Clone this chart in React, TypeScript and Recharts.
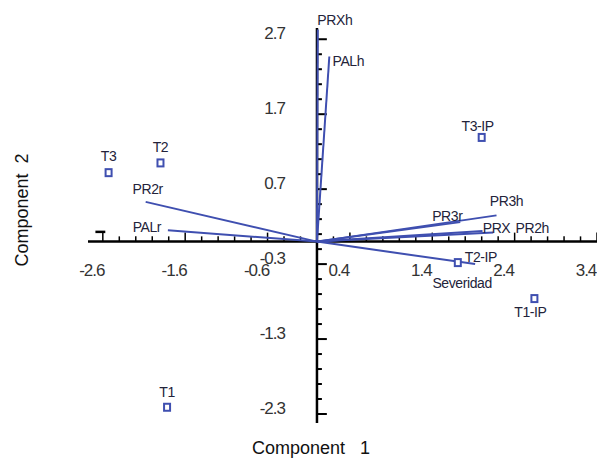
import { ScatterChart, Scatter, XAxis, YAxis, ReferenceLine } from 'recharts'

// biplot: Component 1 vs Component 2
const pointNames = ['T1', 'T2', 'T3', 'T1-IP', 'T2-IP', 'T3-IP']
const pointX = [-1.82, -1.9, -2.53, 2.64, 1.71, 2.0]
const pointY = [-2.21, 1.05, 0.92, -0.76, -0.28, 1.39]

const vectorNames = ['PRXh', 'PALh', 'PR2r', 'PALr', 'PR3h', 'PR3r', 'PRX', 'PR2h', 'Severidad']
const vectorX = [0.01, 0.15, -2.08, -1.81, 2.18, 1.74, 2.01, 2.14, 1.92]
const vectorY = [2.83, 2.47, 0.53, 0.15, 0.35, 0.26, 0.14, 0.12, -0.3]

const xTicks = [-2.6, -1.6, -0.6, 0.4, 1.4, 2.4, 3.4]
const yTicks = [2.7, 1.7, 0.7, -0.3, -1.3, -2.3]

const X_DOMAIN: [number, number] = [-2.78, 3.4]
const Y_DOMAIN: [number, number] = [-2.42, 2.85]

const BLUE = '#3f4fb0'
const FONT = '"Liberation Sans", Arial, sans-serif'

// label placement in pixels relative to the mark: [dx, dy(baseline), anchor]
const pointLabelPos: Record<string, [number, number, string]> = {
  T1: [0, -10, 'middle'],
  T2: [0, -11, 'middle'],
  T3: [0, -12, 'middle'],
  'T1-IP': [-4, 18, 'middle'],
  'T2-IP': [7, -1, 'start'],
  'T3-IP': [-4, -6, 'middle'],
}
const vectorLabelPos: Record<string, [number, number, string]> = {
  PRXh: [17, -4, 'middle'],
  PALh: [19, 10, 'middle'],
  PR2r: [2, -8, 'middle'],
  PALr: [-21, 2, 'middle'],
  PR3h: [10, -9, 'middle'],
  PR3r: [-13, -1, 'middle'],
  PRX: [14, 2, 'middle'],
  PR2h: [39, 0, 'middle'],
  Severidad: [-13, 24, 'middle'],
}

const points = pointNames.map((name, i) => ({ name, x: pointX[i], y: pointY[i] }))
const vectorEnds = vectorNames.map((name, i) => ({ name, x: vectorX[i], y: vectorY[i] }))

// minor ticks every 0.2
const xMinor = Array.from({ length: 31 }, (_, i) => Math.round((-2.6 + i * 0.2) * 10) / 10)
const yMinor = Array.from({ length: 26 }, (_, i) => Math.round((2.7 - i * 0.2) * 10) / 10)
const isMajor = (v: number, majors: number[]) => majors.some(m => Math.abs(m - v) < 1e-6)

function PointShape(props: any) {
  const { cx, cy, payload } = props
  const [dx, dy, anchor] = pointLabelPos[payload.name]
  return (
    <g>
      <rect x={cx - 3} y={cy - 3.5} width={6} height={7} fill="#fff" stroke={BLUE} strokeWidth={2} />
      <text x={cx + dx} y={cy + dy} textAnchor={anchor as any} fontSize={14} letterSpacing={-0.4}
        fontFamily={FONT} fill="#23233a">{payload.name}</text>
    </g>
  )
}

function VectorLabel(props: any) {
  const { cx, cy, payload } = props
  const [dx, dy, anchor] = vectorLabelPos[payload.name]
  return (
    <text x={cx + dx} y={cy + dy} textAnchor={anchor as any} fontSize={14} letterSpacing={-0.4}
      fontFamily={FONT} fill="#23233a">{payload.name}</text>
  )
}

function XTickLabel(props: any) {
  const { cx, cy, payload } = props
  return (
    <text x={cx - 11} y={cy + 34} textAnchor="middle" fontSize={17} letterSpacing={-1}
      fontFamily={FONT} fill="#333">{payload.x}</text>
  )
}

function YTickLabel(props: any) {
  const { cx, cy, payload } = props
  return (
    <text x={cx - 32} y={cy} textAnchor="end" fontSize={17} letterSpacing={-1}
      fontFamily={FONT} fill="#333">{payload.y}</text>
  )
}

const Empty = () => <g />

export default function App() {
  return (
    <div style={{ position: 'absolute', left: 0, top: 0, width: 597, height: 459, background: '#fff' }}>
      <ScatterChart width={597} height={459} margin={{ top: 28, right: 0, bottom: 36, left: 88 }}>
        <XAxis type="number" dataKey="x" domain={X_DOMAIN} hide />
        <YAxis type="number" dataKey="y" domain={Y_DOMAIN} hide />

        {vectorEnds.map(v => (
          <Scatter
            key={v.name}
            data={[{ x: 0, y: 0 }, { x: v.x, y: v.y }]}
            line={{ stroke: BLUE, strokeWidth: 2 }}
            lineType="joint"
            shape={Empty}
            isAnimationActive={false}
          />
        ))}

        <ReferenceLine x={0} stroke="#000" strokeWidth={2.5} />
        <ReferenceLine y={0} stroke="#000" strokeWidth={2.5} />
        <ReferenceLine segment={[{ x: -2.69, y: 0.13 }, { x: -2.57, y: 0.13 }]} stroke="#000" strokeWidth={2.5} />

        {xMinor.map(v => (
          <ReferenceLine
            key={'xt' + v}
            segment={[{ x: v, y: 0 }, { x: v, y: isMajor(v, xTicks) ? 0.12 : 0.07 }]}
            stroke="#000"
            strokeWidth={1.5}
          />
        ))}
        {yMinor.map(v => (
          <ReferenceLine
            key={'yt' + v}
            segment={[{ x: 0, y: v }, { x: isMajor(v, yTicks) ? 0.12 : 0.06, y: v }]}
            stroke="#000"
            strokeWidth={2}
          />
        ))}

        <Scatter data={xTicks.map(x => ({ x, y: 0 }))} shape={XTickLabel} isAnimationActive={false} />
        <Scatter data={yTicks.map(y => ({ x: 0, y }))} shape={YTickLabel} isAnimationActive={false} />

        <Scatter data={vectorEnds} shape={VectorLabel} isAnimationActive={false} />
        <Scatter data={points} shape={PointShape} isAnimationActive={false} />

        <text x={311} y={454} textAnchor="middle" fontSize={18} fontFamily={FONT} fill="#111"
          style={{ whiteSpace: 'pre' }}>{'Component   1'}</text>
        <text x={28} y={210} textAnchor="middle" fontSize={18} fontFamily={FONT} fill="#111"
          transform="rotate(-90 28 210)" style={{ whiteSpace: 'pre' }}>{'Component  2'}</text>
      </ScatterChart>
    </div>
  )
}
